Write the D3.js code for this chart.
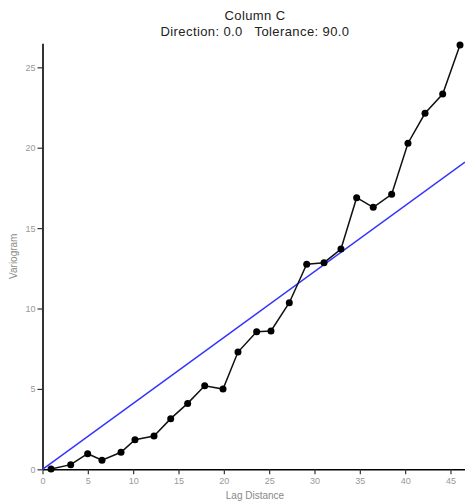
<!DOCTYPE html>
<html><head><meta charset="utf-8">
<script src="https://cdn.jsdelivr.net/npm/d3@7"></script>
<style>body{margin:0;background:#fff}svg{display:block}text{white-space:pre}</style>
</head><body>
<svg id="c" width="465" height="502"></svg>
<script>
const lagX = [0.94,3.11,4.98,6.56,8.66,10.2,12.3,14.14,16.01,17.89,19.91,21.56,23.62,25.2,27.22,29.14,31.05,32.92,34.65,36.48,38.51,40.31,42.19,44.14,46.05];
const gammaY = [0.02,0.29,0.97,0.56,1.06,1.84,2.07,3.15,4.10,5.20,4.99,7.29,8.55,8.6,10.36,12.75,12.85,13.70,16.89,16.29,17.10,20.28,22.14,23.34,26.39];
const modelX = [0, 46.6];
const modelY = [0, 19.1];
const xTicks = [0,5,10,15,20,25,30,35,40,45];
const yTicks = [0,5,10,15,20,25];
const titleLines = ["Column C", "Direction: 0.0   Tolerance: 90.0"];
const xLabel = "Lag Distance";
const yLabel = "Variogram";

const svg = d3.select("#c");
const x = d3.scaleLinear().domain([0, 46.6]).range([42.5, 465]);
const y = d3.scaleLinear().domain([0, 26.5]).range([469.3, 43.2]);

svg.selectAll("text.title").data(titleLines).join("text")
  .attr("x", 255).attr("y", (d,i)=> 20 + i*16)
  .attr("xml:space","preserve")
  .attr("text-anchor","middle").attr("font-family","Liberation Sans, Arial, sans-serif")
  .attr("font-size", 13).attr("letter-spacing", 0.4).attr("fill","#222").text(d=>d);

const gx = svg.append("g").attr("transform", `translate(0,${y(0)})`)
  .call(d3.axisBottom(x).tickValues(xTicks).tickSize(5).tickPadding(3).tickSizeOuter(0));
const gy = svg.append("g").attr("transform", `translate(${x(0)},0)`)
  .call(d3.axisLeft(y).tickValues(yTicks).tickSize(5).tickPadding(2).tickSizeOuter(0));
[gx, gy].forEach(g => {
  g.select(".domain").attr("stroke","#000").attr("stroke-width",1.6);
  g.selectAll(".tick line").attr("stroke","#333").attr("stroke-width",1.2);
  g.selectAll(".tick text").attr("fill","#999").attr("font-size",9).attr("font-family","Liberation Sans, Arial, sans-serif");
});

svg.append("text").attr("x",255).attr("y",499).attr("text-anchor","middle")
  .attr("font-family","Liberation Sans, Arial, sans-serif").attr("font-size",10).attr("fill","#888").text(xLabel);
svg.append("text").attr("transform",`translate(17,${(y(0)+y(26.5))/2}) rotate(-90)`).attr("text-anchor","middle")
  .attr("font-family","Liberation Sans, Arial, sans-serif").attr("font-size",10).attr("fill","#888").text(yLabel);

const model = modelX.map((d,i)=>[d, modelY[i]]);
svg.append("path").datum(model)
  .attr("d", d3.line().x(d=>x(d[0])).y(d=>y(d[1])))
  .attr("fill","none").attr("stroke","#3333ff").attr("stroke-width",1.5);

const pts = lagX.map((d,i)=>[d, gammaY[i]]);
svg.append("path").datum(pts)
  .attr("d", d3.line().x(d=>x(d[0])).y(d=>y(d[1])))
  .attr("fill","none").attr("stroke","#111").attr("stroke-width",1.5);
svg.selectAll("circle.p").data(pts).join("circle")
  .attr("cx", d=>x(d[0])).attr("cy", d=>y(d[1])).attr("r",3.5).attr("fill","#000");
</script>
</body></html>
